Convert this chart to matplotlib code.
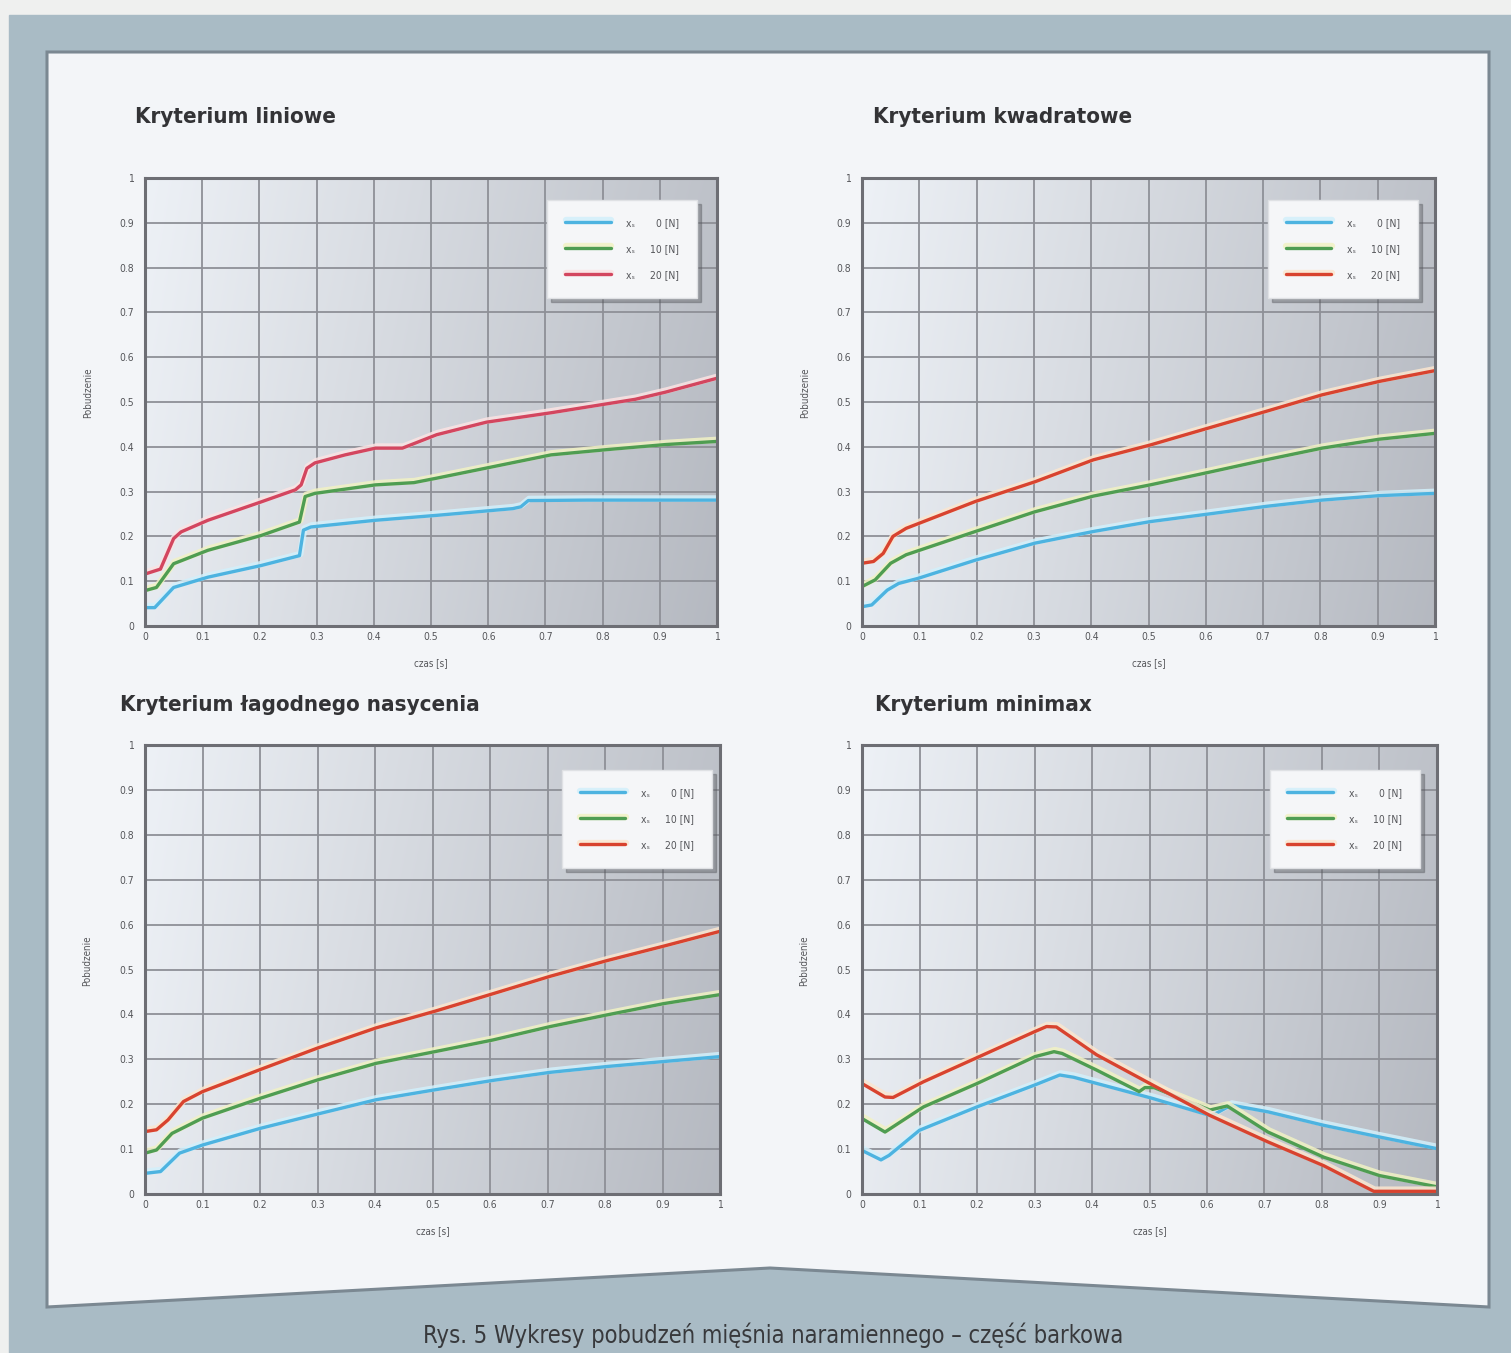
import numpy as np
import matplotlib
matplotlib.use("Agg")
import matplotlib.pyplot as plt
from matplotlib import patheffects as pe
from matplotlib.patches import Polygon, Rectangle

# ---------------------------------------------------------------- data
time_ticks = [0, 0.1, 0.2, 0.3, 0.4, 0.5, 0.6, 0.7, 0.8, 0.9, 1]
tick_labels = ["0", "0.1", "0.2", "0.3", "0.4", "0.5", "0.6", "0.7", "0.8", "0.9", "1"]
force_labels = ["0 [N]", "10 [N]", "20 [N]"]

panel_titles = ["Kryterium liniowe", "Kryterium kwadratowe",
                "Kryterium łagodnego nasycenia", "Kryterium minimax"]
caption = "Rys. 5 Wykresy pobudzeń mięśnia naramiennego – część barkowa"

# Kryterium liniowe
lin_t_0 = [0, 0.017, 0.05, 0.11, 0.203, 0.27, 0.277, 0.29, 0.403, 0.51, 0.643, 0.657, 0.67, 0.773, 1.0]
lin_a_0 = [0.041, 0.041, 0.086, 0.109, 0.135, 0.157, 0.214, 0.221, 0.236, 0.247, 0.262, 0.266, 0.28, 0.281, 0.281]
lin_t_10 = [0, 0.02, 0.05, 0.11, 0.203, 0.27, 0.28, 0.297, 0.403, 0.47, 0.51, 0.61, 0.71, 0.81, 0.91, 1.0]
lin_a_10 = [0.079, 0.086, 0.139, 0.169, 0.202, 0.232, 0.289, 0.296, 0.315, 0.32, 0.33, 0.356, 0.382, 0.394, 0.405, 0.412]
lin_t_20 = [0, 0.027, 0.05, 0.063, 0.11, 0.203, 0.263, 0.273, 0.283, 0.297, 0.35, 0.403, 0.45, 0.51, 0.597, 0.71, 0.803, 0.857, 0.91, 1.0]
lin_a_20 = [0.116, 0.127, 0.195, 0.21, 0.236, 0.277, 0.304, 0.315, 0.352, 0.364, 0.382, 0.397, 0.397, 0.427, 0.455, 0.476, 0.495, 0.506, 0.522, 0.553]

# Kryterium kwadratowe
kw_t_0 = [0, 0.017, 0.044, 0.064, 0.097, 0.198, 0.302, 0.404, 0.503, 0.605, 0.705, 0.803, 0.903, 1.0]
kw_a_0 = [0.043, 0.047, 0.08, 0.095, 0.106, 0.147, 0.185, 0.211, 0.233, 0.25, 0.267, 0.281, 0.291, 0.296]
kw_t_10 = [0, 0.023, 0.05, 0.077, 0.198, 0.302, 0.404, 0.503, 0.605, 0.705, 0.803, 0.903, 1.0]
kw_a_10 = [0.088, 0.103, 0.14, 0.159, 0.211, 0.255, 0.29, 0.315, 0.343, 0.371, 0.397, 0.417, 0.43]
kw_t_20 = [0, 0.02, 0.037, 0.054, 0.077, 0.198, 0.302, 0.404, 0.503, 0.605, 0.705, 0.803, 0.903, 1.0]
kw_a_20 = [0.14, 0.144, 0.162, 0.2, 0.218, 0.278, 0.322, 0.371, 0.404, 0.442, 0.479, 0.516, 0.546, 0.57]

# Kryterium łagodnego nasycenia
ln_t_0 = [0, 0.027, 0.06, 0.1, 0.2, 0.3, 0.402, 0.504, 0.605, 0.705, 0.804, 0.902, 1.0]
ln_a_0 = [0.046, 0.05, 0.091, 0.109, 0.146, 0.178, 0.21, 0.232, 0.253, 0.271, 0.284, 0.295, 0.306]
ln_t_10 = [0, 0.02, 0.047, 0.1, 0.2, 0.3, 0.402, 0.504, 0.605, 0.705, 0.804, 0.902, 1.0]
ln_a_10 = [0.091, 0.098, 0.135, 0.169, 0.213, 0.254, 0.291, 0.317, 0.343, 0.373, 0.399, 0.424, 0.444]
ln_t_20 = [0, 0.02, 0.04, 0.067, 0.1, 0.2, 0.3, 0.402, 0.504, 0.605, 0.705, 0.804, 0.902, 1.0]
ln_a_20 = [0.139, 0.143, 0.165, 0.206, 0.228, 0.277, 0.325, 0.37, 0.407, 0.446, 0.485, 0.52, 0.552, 0.585]

# Kryterium minimax
mm_t_0 = [0, 0.033, 0.047, 0.1, 0.2, 0.301, 0.344, 0.368, 0.441, 0.505, 0.605, 0.615, 0.642, 0.706, 0.803, 0.9, 1.0]
mm_a_0 = [0.097, 0.076, 0.086, 0.142, 0.194, 0.243, 0.265, 0.26, 0.235, 0.213, 0.175, 0.179, 0.198, 0.183, 0.153, 0.127, 0.101]
mm_t_10 = [0, 0.04, 0.107, 0.2, 0.301, 0.334, 0.348, 0.408, 0.482, 0.492, 0.508, 0.605, 0.615, 0.635, 0.706, 0.803, 0.9, 1.0]
mm_a_10 = [0.168, 0.138, 0.194, 0.246, 0.306, 0.317, 0.313, 0.276, 0.228, 0.237, 0.237, 0.187, 0.19, 0.196, 0.138, 0.082, 0.041, 0.016]
mm_t_20 = [0, 0.02, 0.04, 0.054, 0.107, 0.301, 0.321, 0.338, 0.408, 0.505, 0.605, 0.706, 0.803, 0.89, 0.91, 1.0]
mm_a_20 = [0.246, 0.231, 0.216, 0.215, 0.25, 0.362, 0.373, 0.372, 0.31, 0.243, 0.175, 0.116, 0.063, 0.006, 0.006, 0.006]

panels = [
    ((lin_t_0, lin_a_0), (lin_t_10, lin_a_10), (lin_t_20, lin_a_20)),
    ((kw_t_0, kw_a_0), (kw_t_10, kw_a_10), (kw_t_20, kw_a_20)),
    ((ln_t_0, ln_a_0), (ln_t_10, ln_a_10), (ln_t_20, ln_a_20)),
    ((mm_t_0, mm_a_0), (mm_t_10, mm_a_10), (mm_t_20, mm_a_20)),
]

# ---------------------------------------------------------------- style
W, H = 1511, 1353
plt.rcParams["font.family"] = ["DejaVu Sans"]
plt.rcParams["font.stretch"] = "condensed"

page_col = "#eff0ef"
frame_col = "#a9bbc5"
panel_col = "#f3f5f8"
blue, green = "#4db3e0", "#4f9d52"
red_pink, red_orange = "#d3465f", "#d8432f"
halo = {blue: "#d2f0fb", green: "#f1f2c4", red_pink: "#fbe3e3", red_orange: "#fbe6cf"}

# axes boxes in pixels: left, top, right, bottom
boxes = [(145, 178, 717, 626), (862, 178, 1435, 626),
         (145, 745, 720, 1194), (862, 745, 1437, 1194)]
title_pos = [(135, 117), (873, 117), (120, 705), (875, 705)]
legend_anchor = [(0.965, 0.951), (0.970, 0.951), (0.986, 0.944), (0.970, 0.944)]

fig = plt.figure(figsize=(W / 100, H / 100), dpi=100)

# page, coloured frame and the white sheet with a pointed bottom edge
bg = fig.add_axes([0, 0, 1, 1], zorder=-10)
bg.set_xlim(0, W)
bg.set_ylim(H, 0)
bg.axis("off")
bg.add_patch(Rectangle((0, 0), W, H, color=page_col))
bg.add_patch(Rectangle((9, 15), W - 9, H - 15, color=frame_col))
bg.add_patch(Polygon([(47, 52), (1489, 52), (1489, 1307), (770, 1268), (47, 1307)],
                     closed=True, fc=panel_col, ec="#7b8892", lw=2.2))

# soft grey shading of the plotting area
gx, gy = np.meshgrid(np.linspace(0, 1, 300), np.linspace(1, 0, 300))
tt = np.clip(0.72 * gx + 0.28 * (1 - gy) * (0.4 + 0.6 * gx) + 0.12 * gy * gx, 0, 1)
light = np.array([0.93, 0.945, 0.965])
dark = np.array([0.71, 0.725, 0.755])
shade = light[None, None, :] * (1 - tt[..., None]) + dark[None, None, :] * tt[..., None]

for k, ((l, t, r, b), series) in enumerate(zip(boxes, panels)):
    ax = fig.add_axes([l / W, 1 - b / H, (r - l) / W, (b - t) / H])
    ax.imshow(shade, extent=[0, 1, 0, 1], aspect="auto", origin="upper", zorder=0)
    ax.set_xlim(0, 1)
    ax.set_ylim(0, 1)
    ax.set_xticks(time_ticks, tick_labels)
    ax.set_yticks(time_ticks, tick_labels)
    ax.tick_params(length=0, labelsize=7.5, labelcolor="#55565a")
    ax.tick_params(axis="y", pad=8)
    ax.tick_params(axis="x", pad=4)
    ax.grid(True, color="#8e9097", lw=1.3, zorder=1)
    for sp in ax.spines.values():
        sp.set_color("#6d6e74")
        sp.set_linewidth(2.2)
        sp.set_zorder(5)

    reds = red_pink if k == 0 else red_orange
    handles = []
    for (tx, ay), col in zip(series, (blue, green, reds)):
        ln, = ax.plot(tx, ay, color=col, lw=2.4, zorder=3, solid_capstyle="round",
                      solid_joinstyle="round",
                      path_effects=[pe.Stroke(offset=(0.6, 1.2), linewidth=4.6,
                                              foreground=halo[col], alpha=0.85),
                                    pe.Normal()])
        handles.append(ln)

    ax.set_xlabel("czas [s]", fontsize=7, color="#55565a")
    ax.xaxis.set_label_coords(0.5, -0.083)
    ax.xaxis.label.set_va("center")
    ax.set_ylabel("Pobudzenie", fontsize=7, color="#55565a")
    ax.yaxis.set_label_coords(-0.1, 0.52)
    ax.yaxis.label.set_va("center")

    labels = ["x\u209b" + "     " + ("\u2007" if len(s) == 5 else "") + s
              for s in force_labels]
    leg = ax.legend(handles, labels, loc="upper right", bbox_to_anchor=legend_anchor[k],
                    fontsize=7.5, handlelength=4.4, handletextpad=1.5, labelspacing=1.55,
                    borderpad=1.7, borderaxespad=0, frameon=True, fancybox=False,
                    facecolor="#f5f6f8", edgecolor="#dfe1e4", framealpha=1,
                    shadow={"ox": 3, "oy": -3, "color": "#55575c", "alpha": 0.4})
    for txt in leg.get_texts():
        txt.set_color("#55565a")
    leg.set_zorder(6)

    fig.text(title_pos[k][0] / W, 1 - title_pos[k][1] / H, panel_titles[k],
             fontsize=16, fontweight="bold", color="#333336", ha="left", va="center")

fig.text(773 / W, 1 - 1335 / H, caption, fontsize=17, color="#38393c",
         ha="center", va="center")

fig.savefig("out.png", dpi=100)
